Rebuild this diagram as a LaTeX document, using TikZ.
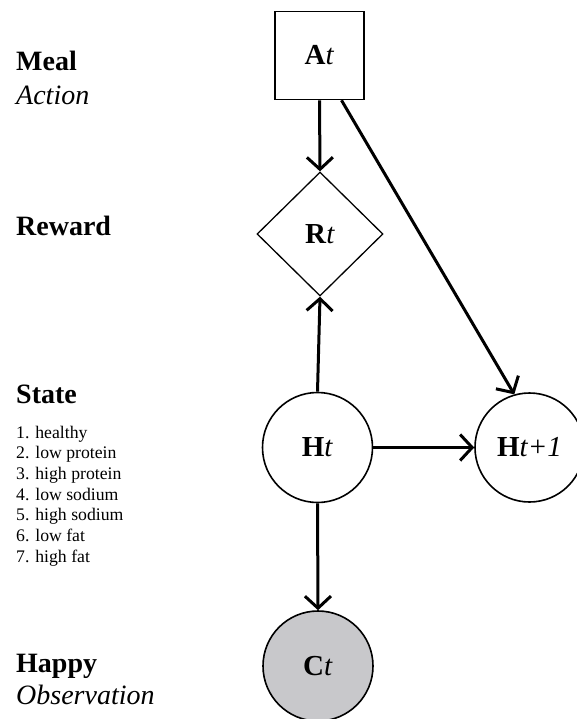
\documentclass[tikz,border=0pt]{standalone}
\usepackage{fontspec}
\setmainfont{Liberation Serif}
\usetikzlibrary{arrows.meta,shapes.geometric}
\definecolor{obsgray}{RGB}{200,200,203}
\begin{document}
\begin{tikzpicture}[x=1pt,y=-1pt,
  lbl/.style={anchor=base west,inner sep=0pt,font=\fontsize{28}{33}\selectfont\bfseries},
  sublbl/.style={anchor=base west,inner sep=0pt,font=\fontsize{28}{33}\selectfont\itshape},
  item/.style={anchor=base west,inner sep=0pt,font=\fontsize{17.7}{20.7}\selectfont},
  varnode/.style={draw,line width=1.6pt,font=\fontsize{29}{34}\selectfont,inner sep=0pt},
  arr/.style={line width=3pt,-{Straight Barb[length=12pt,width=26pt,line width=3pt]}}]
\useasboundingbox (0,0) rectangle (577,719);
\clip (0,0) rectangle (577,719);
% left labels
\node[lbl] (meal) at (16,71) {Meal};
\node[sublbl] (action) at (16,104.5) {Action};
\node[lbl] (reward) at (16,236) {Reward};
\node[lbl] (state) at (16,403.5) {State};
\foreach \txt [count=\i from 0] in {1. healthy,2. low protein,3. high protein,4. low sodium,5. high sodium,6. low fat,7. high fat}
  \node[item] (s\i) at (16,{438+20.7*\i}) {\txt};
\node[lbl] (happy) at (16,672) {Happy};
\node[sublbl] (obs) at (16,704) {Observation};
% nodes
\node[varnode,minimum width=89pt,minimum height=88pt] (A) at (319.5,55.5) {\textbf{A}\textit{t}};
\node[varnode,diamond,line width=1.3pt,minimum width=126pt,minimum height=124pt] (R) at (320,234) {\textbf{R}\textit{t}};
\node[varnode,circle,minimum size=110pt] (H) at (317.5,447.5) {\textbf{H}\textit{t}};
\node[varnode,circle,minimum size=109pt] (Hn) at (529.5,447.5) {\textbf{H}\textit{t+1}};
\node[varnode,circle,minimum size=110pt,fill=obsgray] (C) at (318,666) {\textbf{C}\textit{t}};
% connectors
\draw[arr] (A.south) -- (R.north);
\draw[arr] ([xshift=22pt]A.south) -- (Hn.106);
\draw[arr] (H.north) -- (R.south);
\draw[arr] (H.east) -- (Hn.west);
\draw[arr] (H.south) -- (C.north);
\end{tikzpicture}
\end{document}
